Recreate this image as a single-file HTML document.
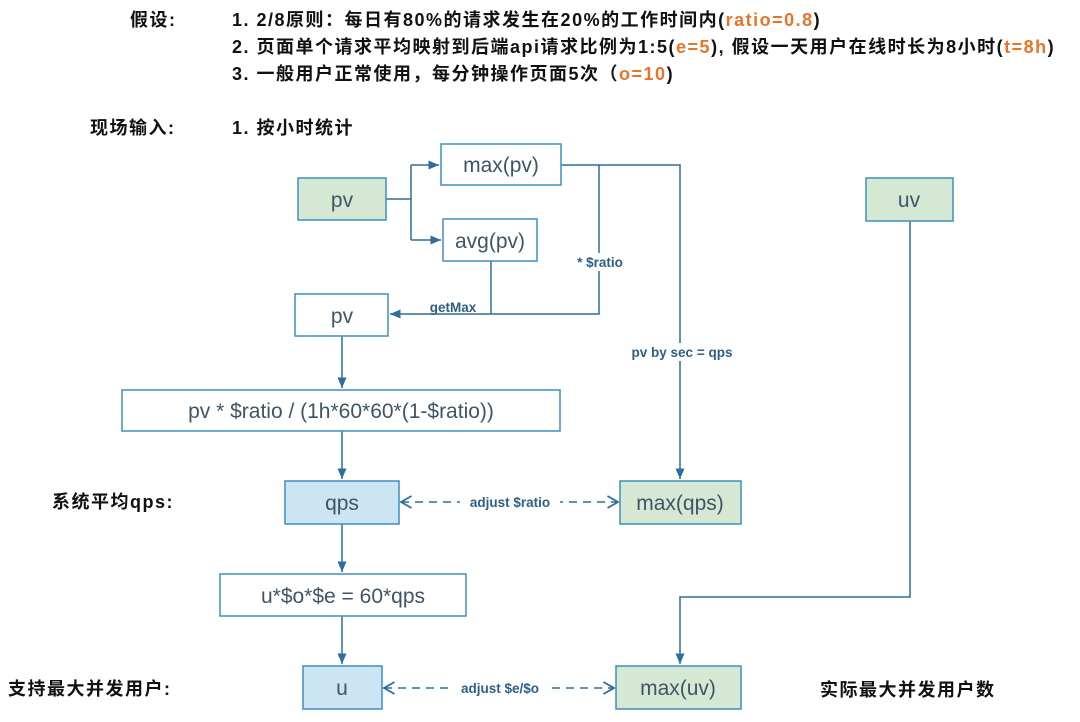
<!DOCTYPE html>
<html><head><meta charset="utf-8"><style>
body{margin:0;background:#fff;width:1080px;height:722px;overflow:hidden;position:relative;font-family:"Liberation Sans","Noto Sans CJK SC",sans-serif}
.t{position:absolute;font-size:18px;font-weight:bold;color:#111;white-space:nowrap;line-height:22px;letter-spacing:1.5px}
.o{color:#e8742a}
</style></head><body>
<div class="t" style="left:130px;top:9px">假设:</div>
<div class="t" style="left:232px;top:9px">1. 2/8原则：每日有80%的请求发生在20%的工作时间内(<span class="o">ratio=0.8</span>)</div>
<div class="t" style="left:232px;top:36px">2. 页面单个请求平均映射到后端api请求比例为1:5(<span class="o">e=5</span>), 假设一天用户在线时长为8小时(<span class="o">t=8h</span>)</div>
<div class="t" style="left:232px;top:63px">3. 一般用户正常使用，每分钟操作页面5次（<span class="o">o=10</span>)</div>
<div class="t" style="left:90px;top:117px">现场输入:</div>
<div class="t" style="left:232px;top:117px">1. 按小时统计</div>
<div class="t" style="left:52px;top:491px">系统平均qps:</div>
<div class="t" style="left:8px;top:678px">支持最大并发用户:</div>
<div class="t" style="left:820px;top:679px">实际最大并发用户数</div>
<svg width="1080" height="722" style="position:absolute;left:0;top:0" font-family="Liberation Sans, sans-serif">
<defs><marker id="a" markerWidth="8" markerHeight="8" refX="7" refY="4" orient="auto"><path d="M0,1 L7,4 L0,7 z" fill="#2e6e9a"/></marker>
<marker id="b" markerWidth="10" markerHeight="10" refX="8" refY="5" orient="auto-start-reverse"><path d="M1,1 L8,5 L1,9" fill="none" stroke="#2e6e9a" stroke-width="1.2"/></marker></defs>
<g stroke="#2e6e9a" stroke-width="1.5" fill="none">
<path d="M386,199 H411 M411,165 V240"/>
<path d="M411,165 H439" marker-end="url(#a)"/>
<path d="M411,240 H441" marker-end="url(#a)"/>
<path d="M561,165 H680 V479" marker-end="url(#a)"/>
<path d="M599,165 V314 H390" marker-end="url(#a)"/>
<path d="M491,261 V314"/>
<path d="M342,336 V388" marker-end="url(#a)"/>
<path d="M342,431 V479" marker-end="url(#a)"/>
<path d="M342,524 V572" marker-end="url(#a)"/>
<path d="M342,616 V664" marker-end="url(#a)"/>
<path d="M910,221 V597 H680 V664" marker-end="url(#a)"/>
<path d="M401,502 H618" stroke-dasharray="8,6" marker-start="url(#b)" marker-end="url(#b)"/>
<path d="M384,688 H614" stroke-dasharray="8,6" marker-start="url(#b)" marker-end="url(#b)"/>
</g>
<g stroke="#3d8fc0" stroke-width="1.5">
<rect x="298" y="178" width="88" height="42" fill="#d5e8d4"/>
<rect x="441" y="144" width="120" height="41" fill="#fff"/>
<rect x="443" y="219" width="94" height="42" fill="#fff"/>
<rect x="295" y="294" width="93" height="42" fill="#fff"/>
<rect x="122" y="390" width="438" height="41" fill="#fff"/>
<rect x="285" y="481" width="114" height="43" fill="#cce5f3"/>
<rect x="620" y="481" width="121" height="43" fill="#d5e8d4"/>
<rect x="220" y="574" width="246" height="42" fill="#fff"/>
<rect x="303" y="666" width="79" height="43" fill="#cce5f3"/>
<rect x="616" y="666" width="125" height="43" fill="#d5e8d4"/>
<rect x="866" y="178" width="87" height="43" fill="#d5e8d4"/>
</g>
<g fill="#3f5566" font-size="21" text-anchor="middle">
<text x="342" y="207">pv</text>
<text x="501" y="172">max(pv)</text>
<text x="490" y="248">avg(pv)</text>
<text x="342" y="323">pv</text>
<text x="341" y="418">pv * $ratio / (1h*60*60*(1-$ratio))</text>
<text x="342" y="510">qps</text>
<text x="680" y="510">max(qps)</text>
<text x="343" y="603">u*$o*$e = 60*qps</text>
<text x="342" y="695">u</text>
<text x="678" y="695">max(uv)</text>
<text x="909" y="207">uv</text>
</g>
<g fill="#2e5f85" font-size="13.5" font-weight="bold" text-anchor="middle">
<rect x="560" y="253" width="80" height="18" fill="#fff"/>
<text x="600" y="267">* $ratio</text>
<text x="453" y="312">getMax</text>
<rect x="622" y="343" width="120" height="18" fill="#fff"/>
<text x="682" y="357">pv by sec = qps</text>
<rect x="460" y="493" width="100" height="18" fill="#fff"/>
<text x="510" y="507">adjust $ratio</text>
<rect x="450" y="679" width="100" height="18" fill="#fff"/>
<text x="500" y="693">adjust $e/$o</text>
</g>
</svg>
</body></html>
